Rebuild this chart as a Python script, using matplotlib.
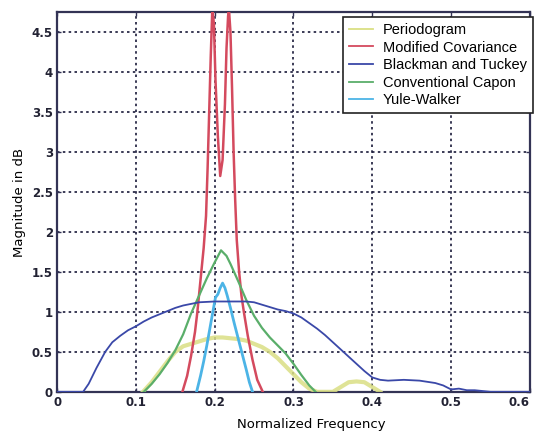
import matplotlib
matplotlib.use("Agg")
import matplotlib.pyplot as plt

# ---------------- data ----------------
periodogram_x = [0.109, 0.12, 0.13, 0.14, 0.15, 0.16, 0.17, 0.18, 0.19, 0.20, 0.21, 0.22,
                 0.23, 0.24, 0.25, 0.26, 0.27, 0.28, 0.29, 0.30, 0.31, 0.32, 0.33, 0.35,
                 0.36, 0.37, 0.38, 0.39, 0.40, 0.41]
periodogram_y = [0.0, 0.12, 0.25, 0.38, 0.50, 0.57, 0.60, 0.63, 0.66, 0.68, 0.68, 0.67,
                 0.66, 0.64, 0.60, 0.56, 0.50, 0.42, 0.32, 0.22, 0.12, 0.04, 0.0, 0.0,
                 0.06, 0.12, 0.13, 0.12, 0.06, 0.0]

modcov_x = [0.159, 0.165, 0.170, 0.175, 0.178, 0.182, 0.186, 0.189, 0.191, 0.193, 0.195,
            0.197, 0.199, 0.201, 0.204, 0.207, 0.210, 0.213, 0.215, 0.217, 0.218, 0.220,
            0.222, 0.224, 0.226, 0.228, 0.231, 0.234, 0.237, 0.242, 0.248, 0.254, 0.261]
modcov_y = [0.0, 0.2, 0.45, 0.75, 1.0, 1.4, 1.8, 2.2, 2.8, 3.5, 4.2,
            4.8, 4.6, 3.9, 3.2, 2.7, 2.9, 3.6, 4.3, 4.7, 4.8, 4.5,
            3.8, 3.0, 2.4, 1.9, 1.5, 1.2, 1.0, 0.7, 0.4, 0.15, 0.0]

bt_x = [0.0, 0.033, 0.04, 0.05, 0.061, 0.07, 0.08, 0.09, 0.10, 0.11, 0.12, 0.13, 0.14,
        0.15, 0.16, 0.17, 0.18, 0.20, 0.22, 0.24, 0.25, 0.26, 0.27, 0.28, 0.29, 0.30,
        0.31, 0.32, 0.33, 0.34, 0.35, 0.36, 0.37, 0.38, 0.39, 0.40, 0.41, 0.42, 0.44,
        0.46, 0.48, 0.49, 0.50, 0.51, 0.52, 0.53, 0.54, 0.55, 0.60]
bt_y = [0.0, 0.0, 0.1, 0.3, 0.5, 0.62, 0.70, 0.77, 0.82, 0.88, 0.93, 0.97, 1.01,
        1.05, 1.08, 1.10, 1.12, 1.13, 1.13, 1.13, 1.12, 1.09, 1.06, 1.03, 1.01, 0.98,
        0.93, 0.86, 0.79, 0.71, 0.62, 0.53, 0.44, 0.35, 0.26, 0.18, 0.15, 0.14, 0.15,
        0.14, 0.11, 0.08, 0.03, 0.04, 0.02, 0.02, 0.01, 0.0, 0.0]

capon_x = [0.11, 0.12, 0.13, 0.14, 0.15, 0.16, 0.17, 0.18, 0.19, 0.20, 0.208, 0.215,
           0.22, 0.23, 0.24, 0.25, 0.26, 0.27, 0.28, 0.29, 0.30, 0.31, 0.32, 0.328]
capon_y = [0.0, 0.1, 0.22, 0.36, 0.52, 0.72, 0.98, 1.2, 1.42, 1.62, 1.77, 1.70,
           1.60, 1.38, 1.15, 0.95, 0.80, 0.68, 0.58, 0.48, 0.35, 0.21, 0.08, 0.0]

yw_x = [0.177, 0.182, 0.186, 0.190, 0.194, 0.198, 0.201, 0.204, 0.207, 0.210, 0.213,
        0.216, 0.220, 0.225, 0.230, 0.235, 0.240, 0.244, 0.248]
yw_y = [0.0, 0.2, 0.38, 0.58, 0.80, 1.02, 1.18, 1.22, 1.30, 1.36, 1.30,
        1.20, 1.05, 0.85, 0.66, 0.47, 0.28, 0.12, 0.0]

x_ticks = [0, 0.1, 0.2, 0.3, 0.4, 0.5, 0.6]
x_tick_labels = ["0", "0.1", "0.2", "0.3", "0.4", "0.5", "0.6"]
y_ticks = [0, 0.5, 1, 1.5, 2, 2.5, 3, 3.5, 4, 4.5]
y_tick_labels = ["0", "0.5", "1", "1.5", "2", "2.5", "3", "3.5", "4", "4.5"]

# ---------------- figure ----------------
fig = plt.figure(figsize=(5.39, 4.32), dpi=100)
ax = fig.add_axes([0.106, 0.093, 0.877, 0.879])

ax.plot(periodogram_x, periodogram_y, color="#dadf84", lw=3.0, alpha=0.85,
        label="Periodogram", zorder=3)
ax.plot(modcov_x, modcov_y, color="#d44a5e", lw=1.8, label="Modified Covariance", zorder=4)
ax.plot(bt_x, bt_y, color="#3a48a8", lw=1.3, label="Blackman and Tuckey", zorder=5)
ax.plot(capon_x, capon_y, color="#5aae6a", lw=1.6, label="Conventional Capon", zorder=4)
ax.plot(yw_x, yw_y, color="#4cb4e6", lw=2.0, label="Yule-Walker", zorder=4)

ax.set_xlim(0, 0.6)
ax.set_ylim(0, 4.75)
ax.set_xticks(x_ticks)
ax.set_xticklabels(x_tick_labels)
ax.set_yticks(y_ticks)
ax.set_yticklabels(y_tick_labels)

for lab in ax.get_xticklabels() + ax.get_yticklabels():
    lab.set_fontweight("bold")
    lab.set_fontsize(8.5)
    lab.set_color("#222233")
# keep the last (edge) x tick label inside the picture
ax.get_xticklabels()[-1].set_horizontalalignment("right")

ax.tick_params(direction="in", length=3, width=1.0, color="#333355",
               top=True, right=True, pad=3)

ax.grid(True, color="#1a1a3a", linestyle=(0, (1.5, 2.0)), linewidth=1.2)
ax.set_axisbelow(True)
for s in ax.spines.values():
    s.set_color("#333355")
    s.set_linewidth(1.6)

ax.set_xlabel("Normalized Frequency", fontsize=9.5)
ax.xaxis.set_label_coords(0.537, -0.068)
ax.set_ylabel("Magnitude in dB", fontsize=9.5, labelpad=4)

leg = ax.legend(loc="upper right", frameon=True, fancybox=False,
                handlelength=1.6, handletextpad=0.7, labelspacing=0.25, borderpad=0.4,
                borderaxespad=0.0, bbox_to_anchor=(1.006, 0.987),
                prop={"family": "Liberation Sans", "size": 10.5})
leg.get_frame().set_edgecolor("#222222")
leg.get_frame().set_linewidth(1.2)
leg.get_frame().set_alpha(1.0)
for line in leg.get_lines():
    line.set_linewidth(1.3)
    line.set_alpha(1.0)

fig.savefig("out.png", dpi=100)
